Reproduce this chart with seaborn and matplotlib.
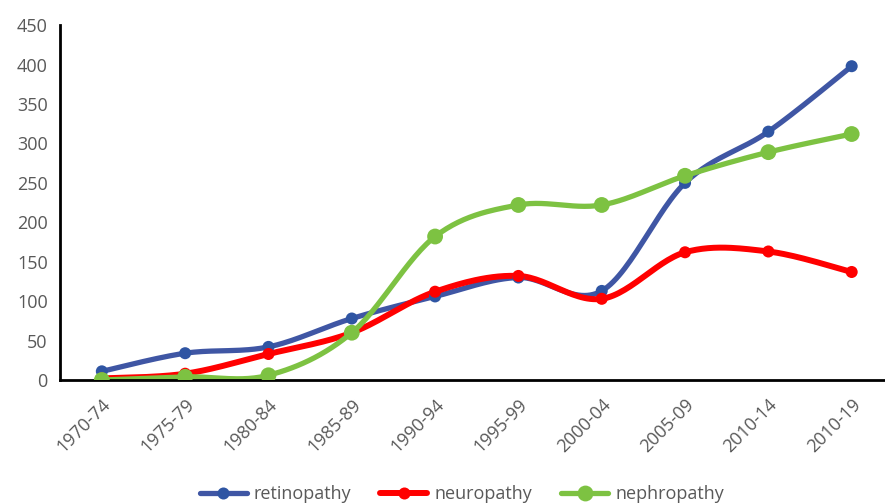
import numpy as np
import pandas as pd
import matplotlib
matplotlib.use("Agg")
import matplotlib.pyplot as plt
from matplotlib.lines import Line2D
import seaborn as sns

sns.set_style("white")
plt.rcParams['font.family'] = ['Open Sans', 'DejaVu Sans']

# Data
periods = ['1970-74', '1975-79', '1980-84', '1985-89', '1990-94',
           '1995-99', '2000-04', '2005-09', '2010-14', '2010-19']
retinopathy = [11, 34, 42, 78, 106, 130, 113, 250, 315, 398]
neuropathy = [2, 8, 33, 60, 112, 132, 103, 162, 163, 137]
nephropathy = [0, 4, 6, 60, 182, 222, 222, 259, 289, 312]

series = {
    'retinopathy': retinopathy,
    'neuropathy': neuropathy,
    'nephropathy': nephropathy,
}
colors = {'retinopathy': '#3F56A4', 'neuropathy': '#FF0000', 'nephropathy': '#7DC242'}
marker_colors = {'retinopathy': '#2F55A3', 'neuropathy': '#FF0000', 'nephropathy': '#7DC242'}
line_widths = {'retinopathy': 3.8, 'neuropathy': 4.3, 'nephropathy': 3.8}
marker_sizes = {'retinopathy': 75, 'neuropathy': 75, 'nephropathy': 130}


def smooth(xs, ys, n=30):
    # Excel-style smoothed line: Bezier segments with Catmull-Rom control points
    pts = np.column_stack([xs, ys]).astype(float)
    out = []
    for i in range(len(pts) - 1):
        p0 = pts[max(i - 1, 0)]
        p1 = pts[i]
        p2 = pts[i + 1]
        p3 = pts[min(i + 2, len(pts) - 1)]
        c1 = p1 + (p2 - p0) / 6
        c2 = p2 - (p3 - p1) / 6
        t = np.linspace(0, 1, n)[:, None]
        seg = ((1 - t) ** 3) * p1 + 3 * ((1 - t) ** 2) * t * c1 + 3 * (1 - t) * t ** 2 * c2 + t ** 3 * p2
        out.append(seg if i == 0 else seg[1:])
    return np.vstack(out)


fig = plt.figure(figsize=(8.85, 5.04), dpi=100)
ax = fig.add_axes([0.068, 0.246, 0.932, 0.704])

x = np.arange(len(periods))
handles = []
for name, vals in series.items():
    curve = smooth(x, vals)
    curve_df = pd.DataFrame({'x': curve[:, 0], 'y': curve[:, 1]})
    sns.lineplot(data=curve_df, x='x', y='y', sort=False, estimator=None,
                 color=colors[name], linewidth=line_widths[name], ax=ax)
    pts_df = pd.DataFrame({'x': x, 'y': vals})
    sns.scatterplot(data=pts_df, x='x', y='y', color=marker_colors[name],
                    s=marker_sizes[name], edgecolor='none', ax=ax, zorder=3)
    handles.append(Line2D([0], [0], color=colors[name], linewidth=line_widths[name],
                          marker='o', markersize=np.sqrt(marker_sizes[name]),
                          markerfacecolor=marker_colors[name], markeredgecolor='none',
                          label=name))

ax.set_xlim(-0.5, 9.4)
ax.set_ylim(0, 450)
ax.set_yticks(range(0, 451, 50))
ax.set_xticks(x)
ax.set_xticklabels(periods, rotation=45, ha='right', rotation_mode='anchor')
ax.set_xlabel('')
ax.set_ylabel('')

for side in ['top', 'right']:
    ax.spines[side].set_visible(False)
for side in ['left', 'bottom']:
    ax.spines[side].set_color('black')
    ax.spines[side].set_linewidth(2)
ax.tick_params(axis='both', which='both', direction='out', length=5, width=2,
               color='black', labelcolor='#595959', labelsize=13)
ax.tick_params(axis='x', pad=6)
ax.tick_params(axis='y', pad=4)

fig.legend(handles=handles, loc='center', bbox_to_anchor=(0.522, 0.02),
           ncol=3, frameon=False, fontsize=13, handlelength=2.6,
           columnspacing=1.6, handletextpad=0.4, labelcolor='#595959',
           borderpad=0)

fig.savefig('out.png', dpi=100)
